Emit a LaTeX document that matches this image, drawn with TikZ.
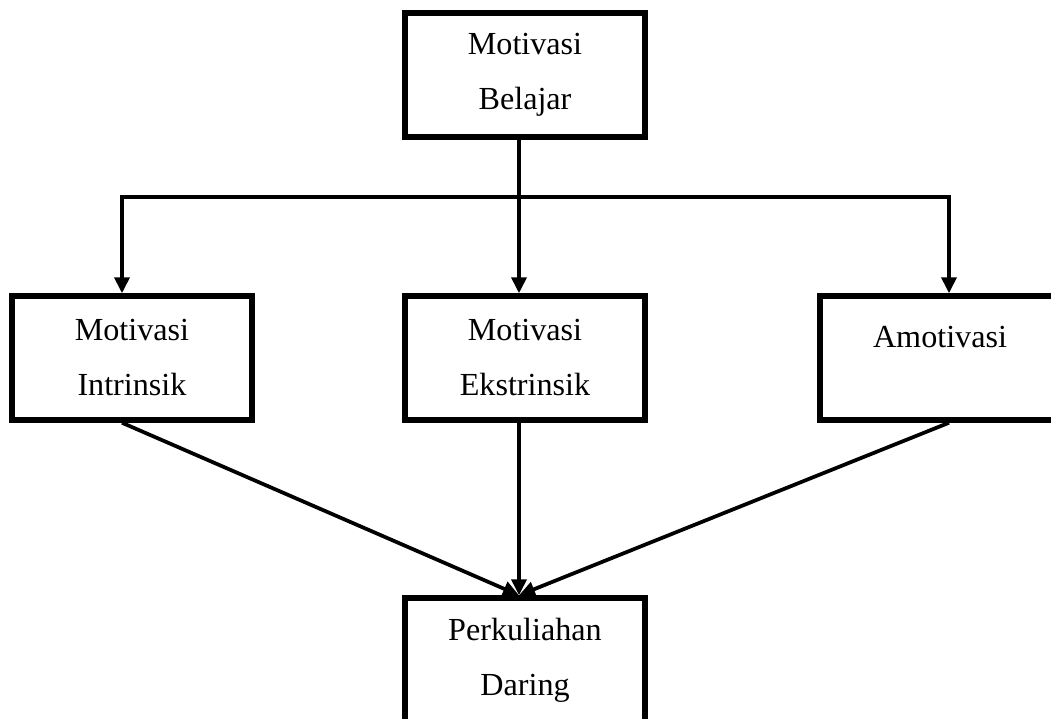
\documentclass[tikz,border=0pt]{standalone}
\usepackage{fontspec}
\setmainfont{Liberation Serif}
\usetikzlibrary{arrows.meta}
\begin{document}
\begin{tikzpicture}[x=0.02cm,y=-0.02cm,
  box/.style={draw,line width=0.11cm,minimum width=4.8cm,minimum height=2.48cm,
    align=center,font=\fontsize{18.3}{31.3}\selectfont},
  arr/.style={line width=0.075cm,-{Triangle[length=0.32cm,width=0.3cm]}}]
  \useasboundingbox (0,0) rectangle (1051,719);
  \clip (0,0) rectangle (1051,719);
  \node[box] (belajar) at (525,75) {Motivasi\\Belajar};
  \node[box] (intrinsik) at (132,358) {Motivasi\\Intrinsik};
  \node[box] (ekstrinsik) at (525,358) {Motivasi\\Ekstrinsik};
  \node[box,text depth=0.86cm] (amotivasi) at (940,358) {Amotivasi};
  \node[box] (daring) at (525,660) {Perkuliahan\\Daring};
  \coordinate (fork) at (519,197);
  % split to the three kinds
  \draw[arr] ([xshift=-0.12cm]belajar.south) -- ([xshift=-0.12cm]ekstrinsik.north);
  \draw[arr] (fork) -| ([xshift=-0.2cm]intrinsik.north);
  \draw[arr] (fork) -| ([xshift=0.18cm]amotivasi.north);
  % all into the online lecture
  \foreach \n/\s in {intrinsik/-0.2cm,ekstrinsik/-0.12cm,amotivasi/0.18cm}
    \draw[arr] ([xshift=\s]\n.south) -- ([xshift=-0.12cm]daring.north);
\end{tikzpicture}
\end{document}
